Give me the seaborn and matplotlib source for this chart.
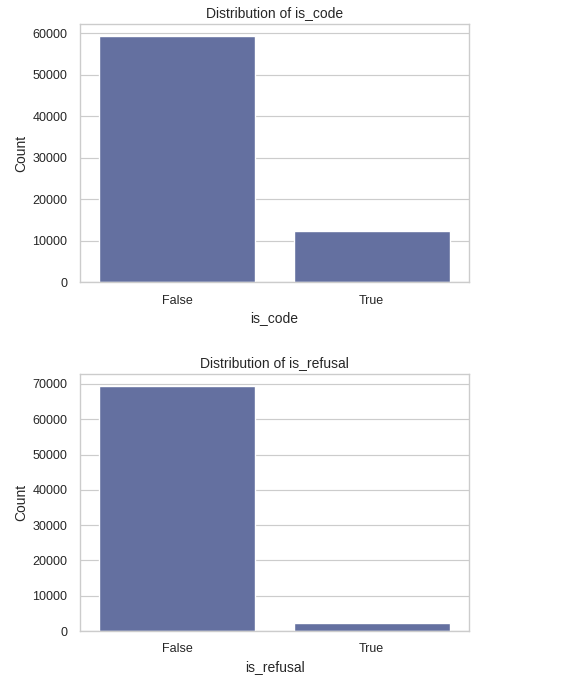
import pandas as pd
import matplotlib
matplotlib.use("Agg")
import matplotlib.pyplot as plt
import seaborn as sns

# counts
categories = ["False", "True"]
is_code_counts = [59300, 12300]
is_refusal_counts = [69350, 2250]

BAR_COLOR = "#6470a0"

sns.set_theme(style="whitegrid")
plt.rcParams["font.family"] = ["Liberation Sans", "DejaVu Sans"]
# the reference looks like a notebook figure shrunk to ~83%
plt.rcParams.update({
    "xtick.major.pad": 3.0,
    "ytick.major.pad": 3.0,
    "axes.labelpad": 3.3,
    "axes.titlepad": 5.0,
    "grid.linewidth": 0.85,
    "axes.linewidth": 1.0,
})

fig = plt.figure(figsize=(5.86, 6.88), dpi=100)
W, H = 586, 688
ax1 = fig.add_axes([80 / W, 1 - 282 / H, (469 - 80) / W, (282 - 24) / H])
ax2 = fig.add_axes([80 / W, 1 - 631 / H, (469 - 80) / W, (631 - 374) / H])

panels = [
    (ax1, "is_code", is_code_counts),
    (ax2, "is_refusal", is_refusal_counts),
]

for ax, name, counts in panels:
    df = pd.DataFrame({name: categories, "Count": counts})
    sns.barplot(data=df, x=name, y="Count", color=BAR_COLOR, saturation=1, ax=ax)
    ax.set_title(f"Distribution of {name}", fontsize=10, color="#262626")
    ax.set_xlabel(name, fontsize=10)
    ax.set_ylabel("Count", fontsize=10)
    ax.tick_params(labelsize=9)

fig.savefig("out.png", dpi=100)
